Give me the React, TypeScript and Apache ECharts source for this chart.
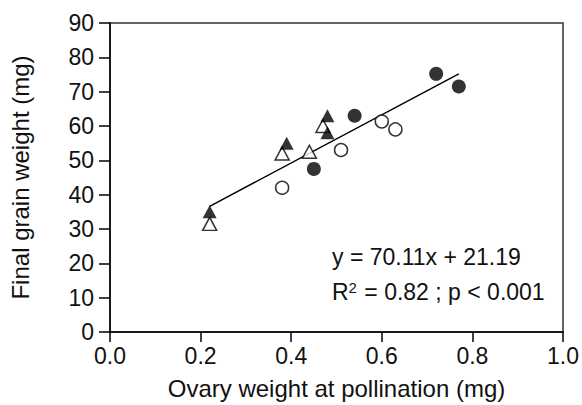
import React, { useEffect, useRef } from "react";
import * as echarts from "echarts";

const filledCircles: [number, number][] = [
  [0.45, 47.5],
  [0.54, 63],
  [0.72, 75.2],
  [0.77, 71.5],
];
const openCircles: [number, number][] = [
  [0.38, 42],
  [0.51, 53],
  [0.6, 61.3],
  [0.63, 59],
];
const filledTriangles: [number, number][] = [
  [0.22, 35],
  [0.39, 55],
  [0.48, 63],
  [0.48, 58],
];
const openTriangles: [number, number][] = [
  [0.22, 31.5],
  [0.38, 52],
  [0.44, 52.5],
  [0.47, 60],
];
const fitX = [0.22, 0.77];
const fitY = [36.6, 75.2];
const xTicks = ["0.0", "0.2", "0.4", "0.6", "0.8", "1.0"];
const equationText = "y = 70.11x + 21.19";
const statsText = "{r|R}{sup|2}{r| = 0.82 ; p < 0.001}";

const FONT = "'Liberation Sans', Arial, sans-serif";

export default function App() {
  const ref = useRef<HTMLDivElement>(null);
  useEffect(() => {
    if (!ref.current) return;
    const chart = echarts.init(ref.current, undefined, { renderer: "svg" });
    const markerBorder = { borderColor: "#000", borderWidth: 1.5 };
    chart.setOption({
      animation: false,
      backgroundColor: "#fff",
      grid: {
        left: 110,
        right: 19,
        top: 23,
        bottom: 73,
        show: true,
        borderColor: "#333",
        borderWidth: 1.5,
        backgroundColor: "transparent",
      },
      xAxis: {
        type: "value",
        min: 0,
        max: 1,
        interval: 0.2,
        name: "Ovary weight at pollination (mg)",
        nameLocation: "middle",
        nameGap: 44,
        nameTextStyle: { fontFamily: FONT, fontSize: 24, color: "#111" },
        axisLine: { show: true, lineStyle: { color: "#000", width: 1.5 } },
        axisTick: { show: true, inside: false, length: 10, lineStyle: { color: "#000", width: 1.5 } },
        axisLabel: {
          fontFamily: FONT,
          fontSize: 23,
          color: "#111",
          margin: 12,
          formatter: (v: number) => xTicks[Math.round(v / 0.2)] ?? v.toFixed(1),
        },
        splitLine: { show: false },
      },
      yAxis: {
        type: "value",
        min: 0,
        max: 90,
        interval: 10,
        name: "Final grain weight (mg)",
        nameLocation: "middle",
        nameGap: 78,
        nameTextStyle: { fontFamily: FONT, fontSize: 24, color: "#111" },
        axisLine: { show: true, lineStyle: { color: "#000", width: 1.5 } },
        axisTick: { show: true, inside: false, length: 11, lineStyle: { color: "#000", width: 1.5 } },
        axisLabel: { fontFamily: FONT, fontSize: 23, color: "#111", margin: 16 },
        splitLine: { show: false },
      },
      graphic: [
        {
          type: "text",
          left: 332,
          top: 245,
          style: { text: equationText, fontFamily: FONT, fontSize: 23, fill: "#111" },
        },
        {
          type: "text",
          left: 332,
          top: 280,
          style: {
            text: statsText,
            fontFamily: FONT,
            fontSize: 23,
            fill: "#111",
            rich: {
              r: { fontFamily: FONT, fontSize: 23, fill: "#111", verticalAlign: "bottom" },
              sup: { fontFamily: FONT, fontSize: 15, fill: "#111", verticalAlign: "top", padding: [0, 1, 0, 0] },
            },
          },
        },
      ],
      series: [
        {
          type: "line",
          data: fitX.map((x, i) => [x, fitY[i]]),
          symbol: "none",
          lineStyle: { color: "#000", width: 1.5 },
          z: 1,
        },
        {
          type: "scatter",
          data: openCircles,
          symbol: "circle",
          symbolSize: 13,
          itemStyle: { color: "#fff", ...markerBorder },
          z: 3,
        },
        {
          type: "scatter",
          data: filledCircles,
          symbol: "circle",
          symbolSize: 14,
          itemStyle: { color: "#000" },
          z: 3,
        },
        {
          type: "scatter",
          data: openTriangles,
          symbol: "triangle",
          symbolSize: [14, 13],
          itemStyle: { color: "#fff", ...markerBorder },
          z: 3,
        },
        {
          type: "scatter",
          data: filledTriangles,
          symbol: "triangle",
          symbolSize: [14, 13],
          itemStyle: { color: "#000" },
          z: 4,
        },
      ],
    });
    return () => chart.dispose();
  }, []);
  return <div ref={ref} style={{ width: 582, height: 405, position: "absolute", left: 0, top: 0 }} />;
}
